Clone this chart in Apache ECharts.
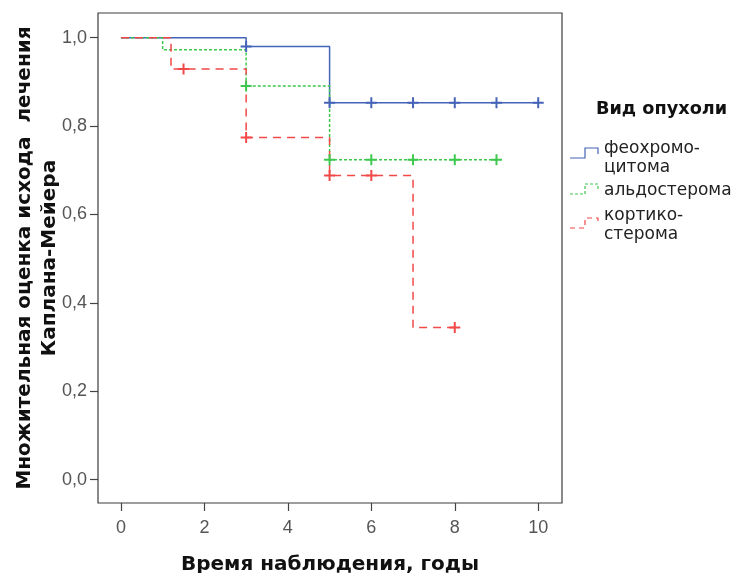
<!DOCTYPE html>
<html>
<head>
<meta charset="utf-8">
<script src="https://cdn.jsdelivr.net/npm/echarts@6/dist/echarts.min.js"></script>
<style>
  html, body { margin: 0; padding: 0; background: #fff; }
  #chart { width: 736px; height: 573px; }
</style>
</head>
<body>
<div id="chart"></div>
<script>
// Kaplan-Meier step curves: [time, survival] at each step
const groupNames = ['феохромо-\nцитома', 'альдостерома', 'кортико-\nстерома'];
const pheoSteps = [[0, 1.0], [3, 0.980], [5, 0.853], [10, 0.853]];
const aldoSteps = [[0, 1.0], [1.0, 0.973], [3, 0.891], [5, 0.724], [9, 0.724]];
const cortSteps = [[0, 1.0], [1.2, 0.929], [3, 0.774], [5, 0.688], [7, 0.344], [8, 0.344]];

// censored observations
const pheoCensored = [[3, 0.980], [5, 0.853], [6, 0.853], [7, 0.853], [8, 0.853], [9, 0.853], [10, 0.853]];
const aldoCensored = [[3, 0.891], [5, 0.724], [6, 0.724], [7, 0.724], [8, 0.724], [9, 0.724]];
const cortCensored = [[1.5, 0.929], [3, 0.774], [5, 0.688], [6, 0.688], [8, 0.344]];

const xTicks = [0, 2, 4, 6, 8, 10];
const yTicks = [0, 0.2, 0.4, 0.6, 0.8, 1.0];

const colors = { pheo: '#4563b8', aldo: '#3cc84c', cort: '#f24848' };
const plusPath = 'path://M4.1,0H5.9V4.1H10V5.9H5.9V10H4.1V5.9H0V4.1H4.1Z';

const chart = echarts.init(document.getElementById('chart'), null, { renderer: 'canvas' });

function stepLine(name, data, color, type) {
  return {
    name, type: 'line', step: 'end', data, symbol: 'none', animation: false,
    lineStyle: { color, width: 1.5, type }, z: 2
  };
}
function censorMarks(name, data, color) {
  return {
    name, type: 'scatter', data, symbol: plusPath, symbolSize: 11, animation: false,
    itemStyle: { color, opacity: 1 }, z: 3
  };
}

const labelFont = { color: '#555', fontSize: 18, fontFamily: '"Liberation Sans", Arial, sans-serif' };
const titleFont = { color: '#111', fontSize: 20, fontWeight: 'bold', fontFamily: '"DejaVu Sans", sans-serif' };
const legendFont = '17px "DejaVu Sans", sans-serif';

// legend drawn as small step glyphs with labels
function legendGlyph(y, color, dash) {
  return {
    type: 'polyline',
    shape: { points: [[570, y + 6], [585, y + 6], [585, y - 4], [598, y - 4], [598, y + 2]] },
    style: { stroke: color, lineWidth: 1.2, fill: null, lineDash: dash }
  };
}

chart.setOption({
  backgroundColor: '#fff',
  animation: false,
  grid: {
    left: 98, top: 13, width: 464, height: 490, outerBoundsMode: 'none', containLabel: false,
    show: true, borderColor: '#3c3c3c', borderWidth: 1.2, backgroundColor: '#fff'
  },
  xAxis: {
    type: 'value', min: -0.55, max: 10.57,
    name: 'Время наблюдения, годы', nameLocation: 'middle', nameGap: 52,
    nameTextStyle: titleFont,
    axisLine: { show: false, onZero: false },
    splitLine: { show: false },
    axisTick: { show: true, customValues: xTicks, length: 8, lineStyle: { color: '#444', width: 1.2 } },
    axisLabel: { customValues: xTicks, margin: 16, ...labelFont }
  },
  yAxis: {
    type: 'value', min: -0.053, max: 1.056,
    name: 'Множительная оценка исхода  лечения\nКаплана-Мейера', nameLocation: 'middle', nameGap: 36,
    nameMoveOverlap: false,
    nameTextStyle: { ...titleFont, lineHeight: 25 },
    axisLine: { show: false, onZero: false },
    splitLine: { show: false },
    axisTick: { show: true, customValues: yTicks, length: 8, lineStyle: { color: '#444', width: 1.2 } },
    axisLabel: { customValues: yTicks, margin: 11, formatter: v => v.toFixed(1).replace('.', ','), ...labelFont }
  },
  series: [
    stepLine(groupNames[0], pheoSteps, colors.pheo, 'solid'),
    stepLine(groupNames[1], aldoSteps, colors.aldo, [3, 2]),
    stepLine(groupNames[2], cortSteps, colors.cort, [8, 6]),
    censorMarks(groupNames[0], pheoCensored, colors.pheo),
    censorMarks(groupNames[1], aldoCensored, colors.aldo),
    censorMarks(groupNames[2], cortCensored, colors.cort)
  ],
  graphic: [
    { type: 'text', left: 596, top: 100, style: { text: 'Вид опухоли', fill: '#111', font: 'bold 17.7px "DejaVu Sans", sans-serif' } },
    legendGlyph(152, colors.pheo, null),
    { type: 'text', left: 604, top: 139, style: { text: groupNames[0], fill: '#222', font: legendFont, lineHeight: 19 } },
    legendGlyph(188, colors.aldo, [3, 2]),
    { type: 'text', left: 604, top: 182, style: { text: groupNames[1], fill: '#222', font: legendFont } },
    legendGlyph(222, colors.cort, [5, 4]),
    { type: 'text', left: 604, top: 206, style: { text: groupNames[2], fill: '#222', font: legendFont, lineHeight: 19 } }
  ]
});
</script>
</body>
</html>
